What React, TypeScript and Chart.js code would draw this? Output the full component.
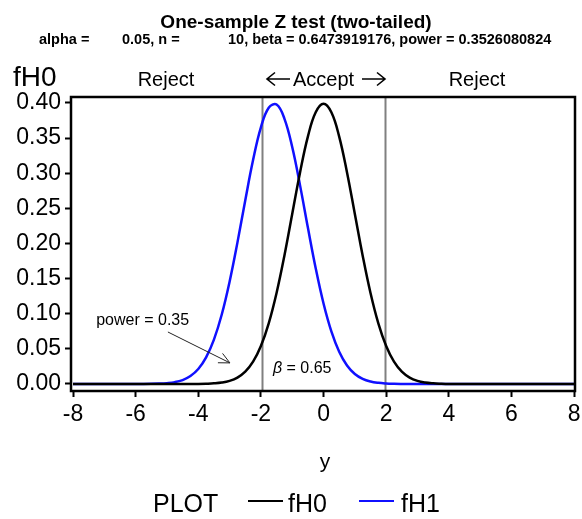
import React, { useEffect, useRef } from 'react';
import { Chart, registerables } from 'chart.js';

Chart.register(...registerables);

// ---- data ----
const xValues = [-8, -7, -6, -5.5, -5.25, -5, -4.75, -4.5, -4.25, -4, -3.75, -3.5, -3.25, -3, -2.75, -2.5, -2.25, -2, -1.75, -1.5, -1.25, -1, -0.75, -0.5, -0.25, 0, 0.25, 0.5, 0.75, 1, 1.25, 1.5, 1.75, 2, 2.25, 2.5, 2.75, 3, 3.25, 3.5, 3.75, 4, 4.5, 5, 6, 7, 8];
const fH0Values = [0, 0, 0, 0, 0, 0, 0, 0, 0, 0.0001, 0.0004, 0.0009, 0.002, 0.0044, 0.0091, 0.0175, 0.0317, 0.054, 0.0863, 0.1295, 0.1826, 0.242, 0.3011, 0.3521, 0.3867, 0.3989, 0.3867, 0.3521, 0.3011, 0.242, 0.1826, 0.1295, 0.0863, 0.054, 0.0317, 0.0175, 0.0091, 0.0044, 0.002, 0.0009, 0.0004, 0.0001, 0, 0, 0, 0, 0];
const fH1Values = [0, 0, 0, 0.0002, 0.0005, 0.0012, 0.0026, 0.0056, 0.0113, 0.0213, 0.0379, 0.0632, 0.0989, 0.1456, 0.2012, 0.2613, 0.3187, 0.3653, 0.3932, 0.3977, 0.3778, 0.3372, 0.2827, 0.2227, 0.1647, 0.1145, 0.0748, 0.0459, 0.0264, 0.0143, 0.0073, 0.0035, 0.0016, 0.0007, 0.0003, 0.0001, 0, 0, 0, 0, 0, 0, 0, 0, 0, 0, 0];
const seriesLabels = ['fH0', 'fH1'];
const xTicks = [-8, -6, -4, -2, 0, 2, 4, 6, 8];
const yTicks = [0, 0.05, 0.1, 0.15, 0.2, 0.25, 0.3, 0.35, 0.4];
const criticalValues = [-1.96, 1.96];
const titleText = 'One-sample Z test (two-tailed)';
const subtitleParts = ['alpha =', '0.05, n =', '10, beta = 0.6473919176, power = 0.3526080824'];
const powerLabel = 'power = 0.35';
const betaValue = '= 0.65';

const FONT = '"Liberation Sans", Arial, Helvetica, sans-serif';

function drawArrow(ctx: any, xFrom: number, xTo: number, y: number) {
  const dir = Math.sign(xTo - xFrom);
  ctx.beginPath();
  ctx.moveTo(xFrom, y);
  ctx.lineTo(xTo, y);
  ctx.moveTo(xTo - dir * 8, y - 6.5);
  ctx.lineTo(xTo, y);
  ctx.lineTo(xTo - dir * 8, y + 6.5);
  ctx.stroke();
}

const decorPlugin = {
  id: 'decor',
  beforeDatasetsDraw(chart: any) {
    const { ctx, chartArea, scales } = chart;
    ctx.save();
    ctx.strokeStyle = '#808080';
    ctx.lineWidth = 2;
    criticalValues.forEach((v) => {
      const px = Math.round(scales.x.getPixelForValue(v)) + 0.5;
      ctx.beginPath();
      ctx.moveTo(px, chartArea.top);
      ctx.lineTo(px, chartArea.bottom);
      ctx.stroke();
    });
    ctx.restore();
  },
  afterDatasetsDraw(chart: any) {
    const { ctx, chartArea, scales } = chart;
    const xs = scales.x;
    const ys = scales.y;
    ctx.save();
    // frame
    ctx.strokeStyle = '#000';
    ctx.lineWidth = 2.5;
    ctx.strokeRect(chartArea.left, chartArea.top, chartArea.right - chartArea.left, chartArea.bottom - chartArea.top);

    // power annotation
    ctx.fillStyle = '#000';
    ctx.font = `16px ${FONT}`;
    ctx.textAlign = 'left';
    ctx.textBaseline = 'alphabetic';
    ctx.fillText(powerLabel, xs.getPixelForValue(-7.26), ys.getPixelForValue(0.084));
    const x1 = xs.getPixelForValue(-4.97), y1 = ys.getPixelForValue(0.074);
    const x2 = xs.getPixelForValue(-2.99), y2 = ys.getPixelForValue(0.03);
    ctx.strokeStyle = '#222';
    ctx.lineWidth = 1;
    ctx.beginPath();
    ctx.moveTo(x1, y1);
    ctx.lineTo(x2, y2);
    const ang = Math.atan2(y2 - y1, x2 - x1);
    const hl = 12, ha = 0.45;
    ctx.moveTo(x2 - hl * Math.cos(ang - ha), y2 - hl * Math.sin(ang - ha));
    ctx.lineTo(x2, y2);
    ctx.lineTo(x2 - hl * Math.cos(ang + ha), y2 - hl * Math.sin(ang + ha));
    ctx.stroke();

    // beta annotation
    const bx = xs.getPixelForValue(-1.614), by = ys.getPixelForValue(0.0156);
    ctx.font = `italic 16px ${FONT}`;
    ctx.fillText('β', bx, by);
    const bw = ctx.measureText('β ').width;
    ctx.font = `16px ${FONT}`;
    ctx.fillText(betaValue, bx + bw, by);
    ctx.restore();
  },
  afterDraw(chart: any) {
    const { ctx } = chart;
    ctx.save();
    ctx.fillStyle = '#000';
    ctx.textBaseline = 'alphabetic';
    // title
    ctx.font = `bold 19px ${FONT}`;
    ctx.textAlign = 'center';
    ctx.fillText(titleText, 296, 28);
    ctx.font = `bold 14.5px ${FONT}`;
    ctx.textAlign = 'left';
    const subX = [39, 122, 228];
    subtitleParts.forEach((t, i) => ctx.fillText(t, subX[i], 44));
    // y label
    ctx.font = `28px ${FONT}`;
    ctx.fillText('fH0', 13, 86);
    // region labels
    ctx.font = `20px ${FONT}`;
    ctx.textAlign = 'center';
    ctx.fillText('Reject', 166, 86);
    ctx.fillText('Reject', 477, 86);
    ctx.textAlign = 'left';
    ctx.fillText('Accept', 293, 86);
    ctx.strokeStyle = '#000';
    ctx.lineWidth = 1.6;
    drawArrow(ctx, 290, 267, 79);
    drawArrow(ctx, 362, 385, 79);
    // x title
    ctx.textAlign = 'center';
    ctx.font = `21px ${FONT}`;
    ctx.fillText('y', 325, 468);
    // legend
    ctx.textAlign = 'left';
    ctx.font = `25px ${FONT}`;
    ctx.fillText('PLOT', 153, 512);
    const ds = chart.data.datasets;
    const items = [
      { x0: 248, x1: 283, tx: 288 },
      { x0: 359, x1: 394, tx: 401 },
    ];
    items.forEach((it, i) => {
      ctx.strokeStyle = ds[i].borderColor;
      ctx.lineWidth = 2;
      ctx.beginPath();
      ctx.moveTo(it.x0, 501);
      ctx.lineTo(it.x1, 501);
      ctx.stroke();
      ctx.fillText(ds[i].label, it.tx, 512);
    });
    ctx.restore();
  },
};

export default function App() {
  const canvasRef = useRef<HTMLCanvasElement>(null);

  useEffect(() => {
    const canvas = canvasRef.current;
    if (!canvas) return;
    const chart = new Chart(canvas, {
      type: 'line',
      data: {
        datasets: [
          {
            label: seriesLabels[0],
            data: xValues.map((x, i) => ({ x, y: fH0Values[i] })),
            borderColor: '#000000',
            borderWidth: 2.5,
            pointRadius: 0,
            tension: 0.4,
            fill: false,
          },
          {
            label: seriesLabels[1],
            data: xValues.map((x, i) => ({ x, y: fH1Values[i] })),
            borderColor: '#1010ff',
            borderWidth: 2.5,
            pointRadius: 0,
            tension: 0.4,
            fill: false,
          },
        ],
      },
      options: {
        animation: false,
        responsive: false,
        devicePixelRatio: 1,
        layout: { padding: { top: 97, right: 7, left: 0, bottom: 0 } },
        plugins: {
          legend: { display: false },
          title: { display: false },
          tooltip: { enabled: false },
        },
        scales: {
          x: {
            type: 'linear',
            min: -8.064,
            max: 8.03,
            afterFit: (s: any) => { s.height = 128; s.paddingRight = 0; s.paddingLeft = 0; },
            afterBuildTicks: (s: any) => { s.ticks = xTicks.map((v) => ({ value: v })); },
            ticks: {
              color: '#000',
              font: { family: FONT, size: 23, lineHeight: 1.45 },
              padding: 1,
              maxRotation: 0,
              autoSkip: false,
              callback: (v: any) => String(v),
            },
            grid: { drawOnChartArea: false, drawTicks: true, tickLength: 6, tickWidth: 2, tickColor: '#000' },
            border: { display: false },
          },
          y: {
            type: 'linear',
            min: -0.01,
            max: 0.4085,
            afterFit: (s: any) => { s.width = 71; },
            afterBuildTicks: (s: any) => { s.ticks = yTicks.map((v) => ({ value: v })); },
            ticks: {
              color: '#000',
              font: { family: FONT, size: 23 },
              padding: 4,
              autoSkip: false,
              callback: (v: any) => Number(v).toFixed(2),
            },
            grid: { drawOnChartArea: false, drawTicks: true, tickLength: 6, tickWidth: 2, tickColor: '#000' },
            border: { display: false },
          },
        },
      },
      plugins: [decorPlugin],
    });
    return () => chart.destroy();
  }, []);

  return (
    <div style={{ position: 'fixed', left: 0, top: 0, width: 582, height: 519, background: '#fff' }}>
      <canvas ref={canvasRef} width={582} height={519} style={{ display: 'block' }} />
    </div>
  );
}
